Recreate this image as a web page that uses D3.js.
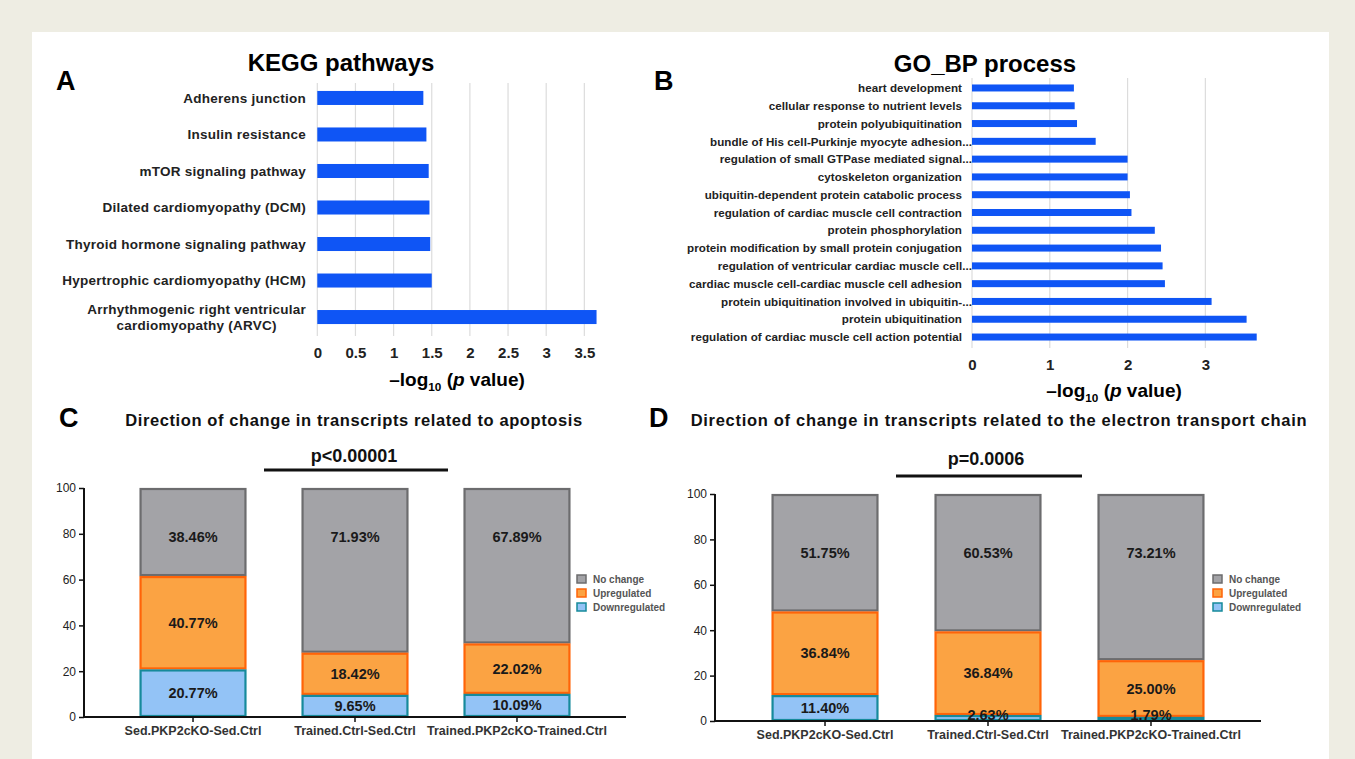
<!DOCTYPE html>
<html>
<head>
<meta charset="utf-8">
<script src="https://cdn.jsdelivr.net/npm/d3@7"></script>
<style>
  html, body { margin: 0; padding: 0; background: #eeede3; }
  svg { display: block; }
  text { font-family: "Liberation Sans", Arial, Helvetica, sans-serif; }
</style>
</head>
<body>
<svg id="fig" width="1355" height="759"></svg>
<script>
// ---------------- DATA ----------------
const keggTerms = [
  "Adherens junction",
  "Insulin resistance",
  "mTOR signaling pathway",
  "Dilated cardiomyopathy (DCM)",
  "Thyroid hormone signaling pathway",
  "Hypertrophic cardiomyopathy (HCM)",
  "Arrhythmogenic right ventricular\ncardiomyopathy (ARVC)"
];
const keggValues = [1.39, 1.43, 1.46, 1.47, 1.48, 1.50, 3.66];
const keggTicks = [0, 0.5, 1, 1.5, 2, 2.5, 3, 3.5];

const goTerms = [
  "heart development",
  "cellular response to nutrient levels",
  "protein polyubiquitination",
  "bundle of His cell-Purkinje myocyte adhesion...",
  "regulation of small GTPase mediated signal...",
  "cytoskeleton organization",
  "ubiquitin-dependent protein catabolic process",
  "regulation of cardiac muscle cell contraction",
  "protein phosphorylation",
  "protein modification by small protein conjugation",
  "regulation of ventricular cardiac muscle cell...",
  "cardiac muscle cell-cardiac muscle cell adhesion",
  "protein ubiquitination involved in ubiquitin-...",
  "protein ubiquitination",
  "regulation of cardiac muscle cell action potential"
];
const goValues = [1.31, 1.32, 1.35, 1.59, 2.00, 2.00, 2.03, 2.05, 2.35, 2.43, 2.45, 2.48, 3.08, 3.53, 3.66];
const goTicks = [0, 1, 2, 3];

const groups = ["Sed.PKP2cKO-Sed.Ctrl", "Trained.Ctrl-Sed.Ctrl", "Trained.PKP2cKO-Trained.Ctrl"];
const seriesNames = ["No change", "Upregulated", "Downregulated"];
const apoDown = [20.77, 9.65, 10.09];
const apoUp = [40.77, 18.42, 22.02];
const apoNo = [38.46, 71.93, 67.89];
const etcDown = [11.40, 2.63, 1.79];
const etcUp = [36.84, 36.84, 25.00];
const etcNo = [51.75, 60.53, 73.21];
const stackTicks = [0, 20, 40, 60, 80, 100];

// ---------------- STYLE ----------------
const BLUE = "#0f55f5";
const GRID = "#dcdcdc";
const TXT = "#222";
const segStyle = {
  "No change":     { fill: "#a3a3a7", stroke: "#6c6c6e" },
  "Upregulated":   { fill: "#fba343", stroke: "#ff6408" },
  "Downregulated": { fill: "#93c3f6", stroke: "#168a9b" }
};

const svg = d3.select("#fig");
svg.append("rect").attr("x", 32).attr("y", 32).attr("width", 1297).attr("height", 727).attr("fill", "#fff");

function panelLetter(t, x, y) {
  svg.append("text").attr("x", x).attr("y", y).text(t)
    .attr("font-size", 27).attr("font-weight", "bold").attr("fill", "#000");
}

function logTitle(g, x, y, size) {
  const t = g.append("text").attr("x", x).attr("y", y).attr("text-anchor", "middle")
    .attr("font-size", size).attr("font-weight", "bold").attr("fill", "#000");
  t.append("tspan").text("\u2013log");
  t.append("tspan").text("10").attr("font-size", size * 0.62).attr("dy", size * 0.28);
  t.append("tspan").text(" (").attr("dy", -size * 0.28);
  t.append("tspan").text("p").attr("font-style", "italic");
  t.append("tspan").text(" value)");
}

// ---------------- Horizontal bar charts ----------------
function hbar(opts) {
  const g = svg.append("g");
  const x = d3.scaleLinear().domain(opts.xDomain).range(opts.xRange);
  const y = d3.scaleBand().domain(opts.terms).range(opts.yRange)
    .paddingInner(opts.padIn).paddingOuter(opts.padOut);

  // gridlines
  g.selectAll(".grid").data(opts.ticks).join("line")
    .attr("x1", d => x(d)).attr("x2", d => x(d))
    .attr("y1", opts.gridTop).attr("y2", opts.gridBottom)
    .attr("stroke", GRID).attr("stroke-width", 1.2);

  // bars
  g.selectAll(".bar").data(opts.terms).join("rect")
    .attr("x", x(0)).attr("y", d => y(d))
    .attr("width", (d, i) => x(opts.values[i]) - x(0))
    .attr("height", y.bandwidth())
    .attr("fill", BLUE);

  // x axis tick labels
  const ax = d3.axisBottom(x).tickValues(opts.ticks).tickSize(0).tickPadding(0)
    .tickFormat(d3.format("~g"));
  const axG = g.append("g").attr("transform", `translate(0,${opts.tickY})`).call(ax);
  axG.select(".domain").remove();
  axG.selectAll("text").attr("font-size", opts.tickSize).attr("font-weight", "bold")
    .attr("fill", TXT).attr("dy", 0).attr("y", 0);

  // category labels
  const mk = (xx, yy, anchor, txt) => g.append("text").attr("x", xx).attr("y", yy)
    .attr("text-anchor", anchor).attr("font-size", opts.labelSize)
    .attr("letter-spacing", opts.labelSpacing)
    .attr("font-weight", "bold").attr("fill", TXT).text(txt);
  opts.terms.forEach((t, i) => {
    const cy = y(t) + y.bandwidth() / 2;
    const lines = t.split("\n");
    const ell = t.endsWith("...");
    const ax0 = ell ? opts.labelX + opts.ellShift : opts.labelX;
    if (lines.length === 1) {
      mk(ax0, cy + opts.labelSize * 0.36, "end", t);
    } else {
      const t1 = mk(ax0, cy - 8 + opts.labelSize * 0.36, "end", lines[0]);
      const w1 = t1.node().getComputedTextLength();
      mk(ax0 - w1 / 2, cy + 8 + opts.labelSize * 0.36, "middle", lines[1]);
    }
  });

  // title
  g.append("text").attr("x", opts.titleX).attr("y", opts.titleY).attr("text-anchor", "middle")
    .attr("font-size", 24).attr("font-weight", "bold").attr("fill", "#000").text(opts.title);
  logTitle(g, opts.axTitleX, opts.axTitleY, 19);
}

hbar({
  terms: keggTerms, values: keggValues, ticks: keggTicks,
  xDomain: [0, 3.7], xRange: [317.3, 599.6],
  yRange: [80, 335], padIn: 0.616, padOut: 0.30,
  gridTop: 83, gridBottom: 336,
  tickY: 358, tickSize: 15,
  labelX: 306, labelSize: 13.5, labelSpacing: 0.25, ellShift: 0,
  title: "KEGG pathways", titleX: 341, titleY: 71,
  axTitleX: 457, axTitleY: 386
});

hbar({
  terms: goTerms, values: goValues, ticks: goTicks,
  xDomain: [0, 3.8], xRange: [972, 1267.6],
  yRange: [78, 347], padIn: 0.607, padOut: 0.364,
  gridTop: 78, gridBottom: 348,
  tickY: 370, tickSize: 15,
  labelX: 962, labelSize: 11.6, labelSpacing: 0.05, ellShift: 10,
  title: "GO_BP process", titleX: 985, titleY: 72,
  axTitleX: 1114, axTitleY: 397
});

panelLetter("A", 56, 90);
panelLetter("B", 654, 90);
panelLetter("C", 59, 427);
panelLetter("D", 649, 427);

// ---------------- Stacked bar charts ----------------
function stacked(opts) {
  const g = svg.append("g");
  const rows = groups.map((grp, i) => ({
    group: grp,
    "Downregulated": opts.down[i],
    "Upregulated": opts.up[i],
    "No change": opts.no[i]
  }));
  const keys = ["Downregulated", "Upregulated", "No change"];
  const series = d3.stack().keys(keys)(rows);

  const x = d3.scaleBand().domain(groups).range(opts.xRange)
    .paddingInner(opts.padIn).paddingOuter(opts.padOut);
  const y = d3.scaleLinear().domain([0, 100]).range(opts.yRange);

  // draw top series first so lower series strokes sit on top
  series.slice().reverse().forEach(s => {
    const st = segStyle[s.key];
    g.selectAll(null).data(s).join("rect")
      .attr("x", d => x(d.data.group) + 1)
      .attr("y", d => y(d[1]) + 1)
      .attr("width", x.bandwidth() - 2)
      .attr("height", d => Math.max(0, y(d[0]) - y(d[1]) - 2))
      .attr("fill", st.fill).attr("stroke", st.stroke).attr("stroke-width", 2.2);
  });

  // value labels
  series.forEach(s => {
    g.selectAll(null).data(s).join("text")
      .attr("x", d => x(d.data.group) + x.bandwidth() / 2)
      .attr("y", d => {
        const v = s.key === "No change" ? opts.topLabelLevel : Math.max((d[0] + d[1]) / 2, opts.minLabelLevel);
        return y(v) + 5;
      })
      .attr("text-anchor", "middle").attr("font-size", 14.5).attr("font-weight", "bold")
      .attr("fill", "#1a1a1a")
      .text(d => d3.format(".2f")(d[1] - d[0]) + "%");
  });

  // axes
  const yAx = d3.axisLeft(y).tickValues(stackTicks).tickSize(5).tickPadding(3);
  const yG = g.append("g").attr("transform", `translate(${opts.xRange[0]},0)`).call(yAx);
  yG.select(".domain").attr("stroke", "#111").attr("stroke-width", 2)
    .attr("d", `M0,${opts.yRange[1]}V${opts.yRange[0]}`);
  yG.selectAll(".tick line").attr("stroke", "#111").attr("stroke-width", 1.5);
  yG.selectAll("text").attr("font-size", 12).attr("fill", TXT)
    .attr("font-family", "'Liberation Sans Narrow', 'Liberation Sans', Arial, sans-serif");

  const xAx = d3.axisBottom(x).tickSize(5).tickPadding(4);
  const xG = g.append("g").attr("transform", `translate(0,${opts.yRange[0]})`).call(xAx);
  xG.select(".domain").attr("stroke", "#111").attr("stroke-width", 2)
    .attr("d", `M${opts.xRange[0]},0H${opts.xRange[1]}`);
  xG.selectAll(".tick line").attr("stroke", "#111").attr("stroke-width", 1.5);
  xG.selectAll("text").attr("font-size", 12.5).attr("font-weight", "bold").attr("fill", "#333")
    .attr("font-family", "'Liberation Sans Narrow', 'Liberation Sans', Arial, sans-serif");

  // title
  g.append("text").attr("x", opts.titleX).attr("y", opts.titleY).attr("text-anchor", "middle")
    .attr("font-size", 16.5).attr("letter-spacing", opts.titleSpacing)
    .attr("font-weight", "bold").attr("fill", "#111").text(opts.title);

  // significance
  g.append("text").attr("x", opts.pX).attr("y", opts.pY).attr("text-anchor", "middle")
    .attr("font-size", 18).attr("font-weight", "bold").attr("fill", "#111").text(opts.pText);
  g.append("line").attr("x1", opts.lineX[0]).attr("x2", opts.lineX[1])
    .attr("y1", opts.lineY).attr("y2", opts.lineY)
    .attr("stroke", "#111").attr("stroke-width", 3);

  // legend
  seriesNames.forEach((n, i) => {
    const ly = opts.legY + i * 14;
    const st = segStyle[n];
    g.append("rect").attr("x", opts.legX).attr("y", ly - 4).attr("width", 9).attr("height", 8)
      .attr("fill", st.fill).attr("stroke", st.stroke).attr("stroke-width", 1.5);
    g.append("text").attr("x", opts.legX + 16).attr("y", ly + 3.5)
      .attr("font-size", 10).attr("font-weight", "bold").attr("fill", "#555").text(n);
  });
}

stacked({
  down: apoDown, up: apoUp, no: apoNo,
  xRange: [84, 626], padIn: 0.34, padOut: 0.343,
  yRange: [717, 488],
  topLabelLevel: 78.6, minLabelLevel: 3.9,
  title: "Direction of change in transcripts related to apoptosis", titleX: 354, titleY: 426,
  titleSpacing: 0.6,
  pText: "p<0.00001", pX: 354, pY: 462, lineX: [264, 448], lineY: 470,
  legX: 577, legY: 579
});

stacked({
  down: etcDown, up: etcUp, no: etcNo,
  xRange: [715, 1261], padIn: 0.344, padOut: 0.347,
  yRange: [721, 494],
  topLabelLevel: 74, minLabelLevel: 2.7,
  title: "Direction of change in transcripts related to the electron transport chain", titleX: 999, titleY: 426,
  titleSpacing: 0.7,
  pText: "p=0.0006", pX: 986, pY: 465, lineX: [896, 1082], lineY: 476,
  legX: 1213, legY: 579
});
</script>
</body>
</html>
